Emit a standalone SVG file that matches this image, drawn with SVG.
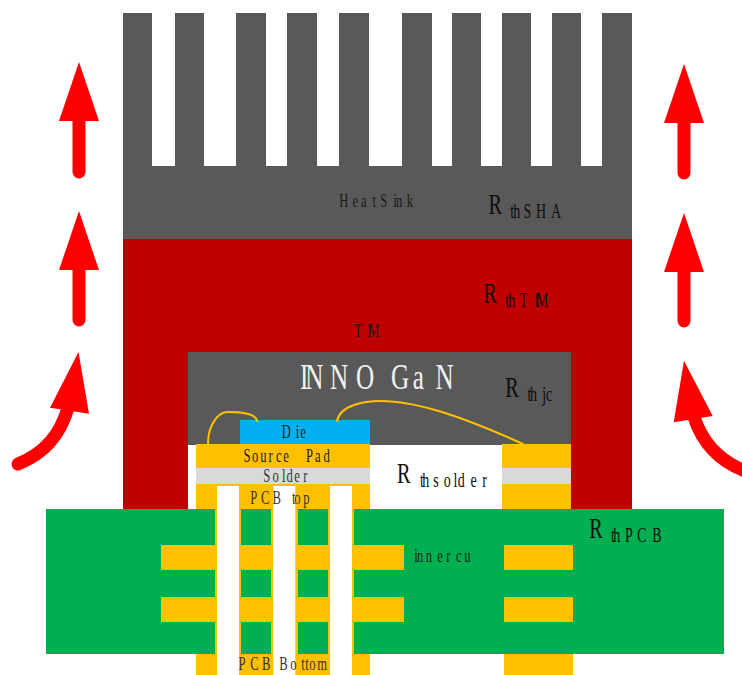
<svg xmlns="http://www.w3.org/2000/svg" width="742" height="675" viewBox="0 0 742 675">
<style>
.g{fill:#595959}.r{fill:#C00000}.y{fill:#FFC000}.p{fill:#00B050}.w{fill:#FFFFFF}.s{fill:#D9D9D9}.b{fill:#00B0F0}
text{font-family:"Liberation Serif","Times New Roman",serif;white-space:pre}
.t{font-size:18px;fill:#1A1A1A}.t2{font-size:18px;fill:#333333}
.big{font-size:36px;fill:#F2F2F2}
.R{font-size:29px;fill:#0D0D0D}.sub{font-size:20px}
.wire{fill:none;stroke:#FFC000;stroke-width:2;stroke-linecap:round}
.sh{fill:none;stroke:#FF0000;stroke-width:13;stroke-linecap:round}
.hd{fill:#FF0000}
</style>
<rect width="742" height="675" class="w"/>
<g id="heatsink">
<rect class="g" x="123" y="166" width="509" height="73"/>
<rect class="g" x="123" y="13" width="29" height="153"/>
<rect class="g" x="175" y="13" width="29" height="153"/>
<rect class="g" x="236" y="13" width="30" height="153"/>
<rect class="g" x="287" y="13" width="30" height="153"/>
<rect class="g" x="339" y="13" width="30" height="153"/>
<rect class="g" x="402" y="13" width="30" height="153"/>
<rect class="g" x="452" y="13" width="29" height="153"/>
<rect class="g" x="502" y="13" width="29" height="153"/>
<rect class="g" x="552" y="13" width="29" height="153"/>
<rect class="g" x="602" y="13" width="30" height="153"/>
<text class="t" transform="scale(.7 1)" y="207.5" x="484.7 503.7 515.7 532.3 543.3 561.9 565.7 580.9">HeatSink</text>
<text class="R" transform="scale(.7 1)" y="214" x="698">R<tspan class="sub" y="218.3" x="729 733.3 748 765.7 787.1">thSHA</tspan></text>
</g>
<g id="tim">
<rect class="r" x="123" y="239" width="509" height="270"/>
<text class="t" transform="scale(.7 1)" y="336.7" x="506.1 524.3 526.1">TIM</text>
<text class="R" transform="scale(.7 1)" y="302.7" x="690.9">R<tspan class="sub" y="307" x="721.9 726.1 741.9 763.3 765.7">thTIM</tspan></text>
</g>
<g id="package">
<rect class="g" x="188" y="352" width="383" height="93"/>
<rect class="w" x="188" y="445" width="383" height="64"/>
<text class="big" transform="scale(.7 1)" y="389.3" x="428.6 436.1 471.4 508.6 535 558.6 589.6 622">INNO GaN</text>
<text class="R" transform="scale(.7 1)" y="396.7" x="721.9">R<tspan class="sub" y="401.3" x="753.7 757.1 774.7 780">thjc</tspan></text>
</g>
<g id="pcb">
<rect class="y" x="196" y="484" width="174" height="191"/>
<rect class="y" x="502" y="484" width="69" height="25"/>
<rect class="y" x="504" y="654" width="69" height="21"/>
<rect class="p" x="46" y="509" width="678" height="145"/>
<rect class="y" x="215" y="509" width="139" height="145"/>
<rect class="y" x="161" y="545" width="243" height="25"/>
<rect class="y" x="161" y="597" width="243" height="25"/>
<rect class="y" x="504" y="545" width="69" height="25"/>
<rect class="y" x="504" y="597" width="69" height="25"/>
<rect class="p" x="241" y="509" width="30" height="36"/>
<rect class="p" x="298" y="509" width="30" height="36"/>
<rect class="p" x="241" y="570" width="30" height="27"/>
<rect class="p" x="298" y="570" width="30" height="27"/>
<rect class="p" x="241" y="622" width="30" height="32"/>
<rect class="p" x="298" y="622" width="30" height="32"/>
<rect class="w" x="217" y="486" width="22" height="189"/>
<rect class="w" x="273.3" y="486" width="22" height="189"/>
<rect class="w" x="330" y="486" width="22" height="189"/>
<text class="t2" transform="scale(.7 1)" y="503.7" x="357.6 372.9 389.4 407 417.1 420.4 433.3">PCB top</text>
<text class="t2" transform="scale(.7 1)" y="670" x="340.9 357.6 374.3 385.7 399 414.7 430.4 436.1 441.9 453.3">PCB Bottom</text>
<text class="t" transform="scale(.7 1)" y="561.7" x="591.9 595.7 608.3 624.7 637.6 651.4 663.3">innercu</text>
<text class="R" transform="scale(.7 1)" y="537.7" x="841.9">R<tspan class="sub" y="541.7" x="872.9 876.1 892.9 910.4 931.9">thPCB</tspan></text>
</g>
<g id="solder">
<rect class="s" x="196" y="468" width="174" height="16"/>
<rect class="s" x="502" y="468" width="69" height="16"/>
<text class="t2" transform="scale(.7 1)" y="481.7" x="376.1 389.4 402.9 409.4 420.4 433.3">Solder</text>
<text class="R" transform="scale(.7 1)" y="482.7" x="567">R<tspan class="sub" y="486.7" x="600 603.3 619 634 648 654 672 689">thsolder</tspan></text>
</g>
<g id="source-pad">
<rect class="y" x="196" y="444" width="174" height="24"/>
<rect class="y" x="502" y="444" width="69" height="24"/>
<text class="t" transform="scale(.7 1)" y="462" x="348 360 371.9 383.7 394.3 404.7 421.4 437 450 462">Source Pad</text>
</g>
<g id="die">
<rect class="b" x="240" y="420" width="130" height="24"/>
<text class="t" transform="scale(.7 1)" y="438" x="402.4 422.4 429">Die</text>
</g>
<g id="connectors">
<path class="wire" d="M208 444C208 425 218 412 228 412C243 412 256 414 257 421"/>
<path class="wire" d="M337 421C340 405 365 401 380 401C420 401 470 420 523 444"/>
<path class="sh" d="M79 172V115"/><polygon class="hd" points="79,62 99,121 59,121"/>
<path class="sh" d="M79 320V264"/><polygon class="hd" points="79,211 99,270 59,270"/>
<path class="sh" d="M684 173V117"/><polygon class="hd" points="684,64 704,123 664,123"/>
<path class="sh" d="M684 321V266"/><polygon class="hd" points="684,213 704,272 664,272"/>
<path class="sh" d="M18 464C45 453 60 435 68 408"/><polygon class="hd" points="78.5,352 89,413.7 50,407.7"/>
<path class="sh" d="M745 471C722 462 703 445 694 417"/><polygon class="hd" points="684,360.7 712.7,416 673.7,422.3"/>
</g>
</svg>
